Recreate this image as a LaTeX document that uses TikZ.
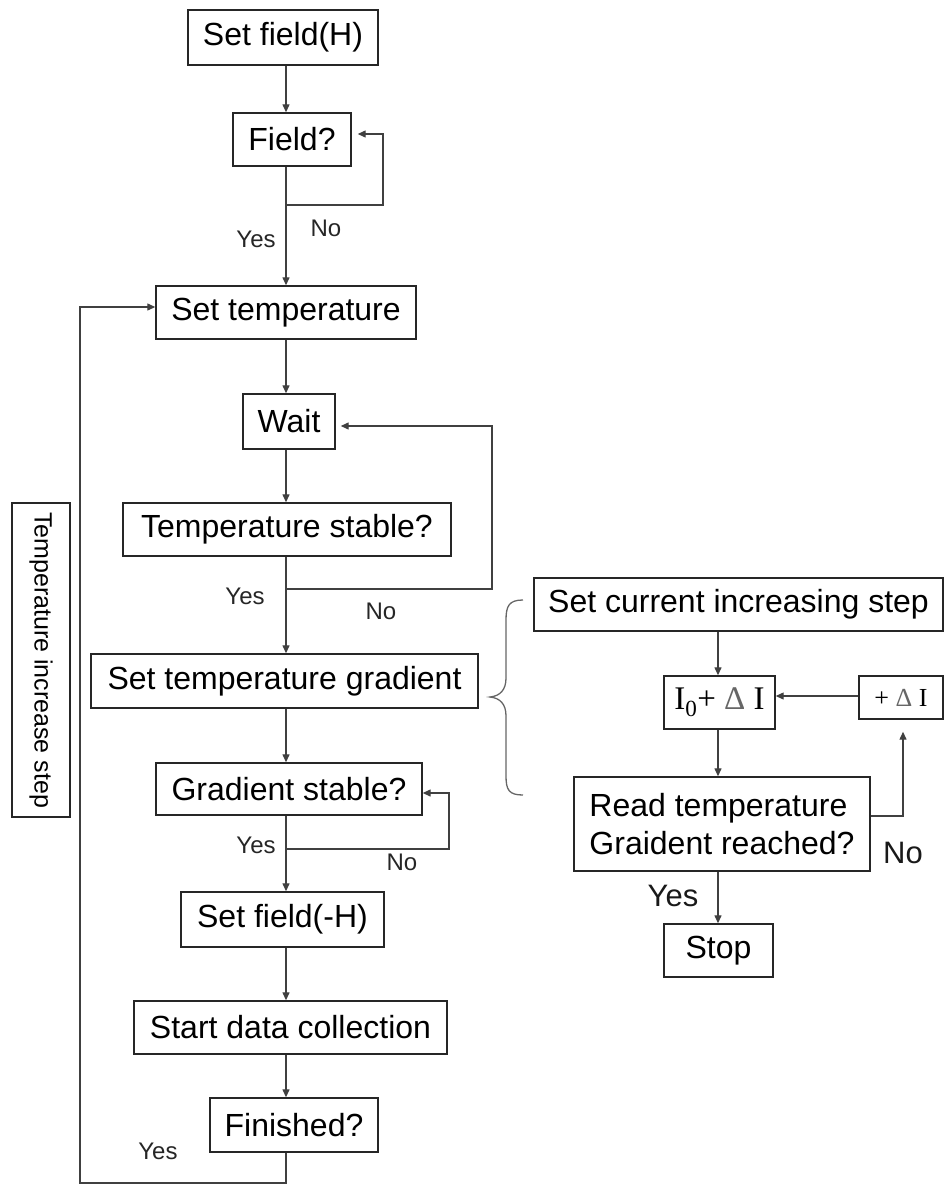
\documentclass[tikz,border=0pt]{standalone}
\usepackage{fontspec}
\setmainfont{Liberation Sans}
\newfontfamily\seriffam{Liberation Serif}
\usetikzlibrary{arrows.meta}
\begin{document}
\begin{tikzpicture}[x=1pt,y=-1pt,
  box/.style={draw=black!85, line width=1.4pt, inner sep=0pt, align=center, font=\fontsize{32}{38}\selectfont},
  ln/.style={draw=black!75, line width=1.3pt},
  arr/.style={ln, -{Triangle[length=8pt,width=7pt]}},
  lab/.style={inner sep=0pt, font=\fontsize{24}{28}\selectfont, text=black!85},
  labr/.style={inner sep=0pt, font=\fontsize{31}{36}\selectfont, text=black!90}]
\useasboundingbox (0,0) rectangle (944,1185);
% main column
\node[box, minimum width=190pt, minimum height=55pt] (n1) at (283,37.5) {Set field(H)};
\node[box, minimum width=118pt, minimum height=53pt] (n2) at (292,139.5) {Field?};
\node[box, minimum width=260pt, minimum height=53pt] (n3) at (286,312.5) {Set temperature};
\node[box, minimum width=92pt, minimum height=55pt] (n4) at (289,421.5) {Wait};
\node[box, minimum width=328pt, minimum height=53pt] (n5) at (287,529.5) {Temperature stable?};
\node[box, minimum width=387pt, minimum height=54pt] (n6) at (284.5,681) {Set temperature gradient};
\node[box, minimum width=266pt, minimum height=52pt] (n7) at (289,789) {Gradient stable?};
\node[box, minimum width=203pt, minimum height=55pt] (n8) at (282.5,919.5) {Set field(-H)};
\node[box, minimum width=313pt, minimum height=53pt] (n9) at (290.5,1027.5) {Start data collection};
\node[box, minimum width=168pt, minimum height=54pt] (n10) at (294,1125) {Finished?};
\node[box, rotate=-90, minimum width=314pt, minimum height=58pt, font=\fontsize{25}{30}\selectfont] (side) at (41,660) {Temperature increase step};
% right column
\node[box, minimum width=409pt, minimum height=53pt] (r1) at (738.5,604.5) {Set current increasing step};
\node[box, minimum width=111pt, minimum height=53pt, font=\seriffam\fontsize{33}{38}\selectfont] (r2) at (719.5,702.5) {I\textsubscript{0}+ {\color{black!60}Δ} I};
\node[box, minimum width=84pt, minimum height=43pt, font=\seriffam\fontsize{26}{30}\selectfont] (r3) at (901,697.5) {+ {\color{black!60}Δ} I};
\node[box, minimum width=296pt, minimum height=94pt, align=left] (r4) at (722,824) {Read temperature\\Graident reached?};
\node[box, minimum width=109pt, minimum height=53pt] (r5) at (718.5,950.5) {Stop};
% coordinates
\coordinate (sp) at (286,0);
\coordinate (rs) at (718,0);
\coordinate (b1) at (286,205);
\coordinate (c1) at (383,134);
\coordinate (b2) at (286,589);
\coordinate (c2) at (492,426);
\coordinate (b3) at (286,849);
\coordinate (c3) at (449,793);
\coordinate (c4) at (80,1183);
\coordinate (c5) at (80,307);
\coordinate (ry) at (0,696);
\coordinate (c6) at (903,816);
% main arrows
\draw[arr] (n1.south -| sp) -- (n2.north -| sp);
\draw[arr] (n2.south -| sp) -- (n3.north -| sp);
\draw[arr] (n3.south -| sp) -- (n4.north -| sp);
\draw[arr] (n4.south -| sp) -- (n5.north -| sp);
\draw[arr] (n5.south -| sp) -- (n6.north -| sp);
\draw[arr] (n6.south -| sp) -- (n7.north -| sp);
\draw[arr] (n7.south -| sp) -- (n8.north -| sp);
\draw[arr] (n8.south -| sp) -- (n9.north -| sp);
\draw[arr] (n9.south -| sp) -- (n10.north -| sp);
% loops
\draw[arr, shorten >=6pt] (b1) -| (c1) -- (c1 -| n2.east);
\draw[arr, shorten >=5pt] (b2) -| (c2) -- (c2 -| n4.east);
\draw[arr] (b3) -| (c3) -- (c3 -| n7.east);
\draw[arr] (n10.south -| sp) |- (c4) -- (c5) -- (c5 -| n3.west);
% right arrows
\draw[arr] (r1.south -| rs) -- (r2.north -| rs);
\draw[arr] (r2.south -| rs) -- (r4.north -| rs);
\draw[arr] (r4.south -| rs) -- (r5.north -| rs);
\draw[arr] (r3.west |- ry) -- (r2.east |- ry);
\draw[arr, shorten >=12pt] (r4.east |- c6) -- (c6) -- (c6 |- r3.south);
% brace
\draw[draw=black!60, line width=1.3pt] (523,600) .. controls (509,600) and (506,606) .. (506,620) -- (506,678) .. controls (506,690) and (500,696) .. (490,697) .. controls (500,698) and (506,704) .. (506,716) -- (506,776) .. controls (506,790) and (509,795) .. (523,795);
% labels
\node[lab] (l1) at (326,228) {No};
\node[lab] (l2) at (256,239) {Yes};
\node[lab] (l3) at (245,596) {Yes};
\node[lab] (l4) at (381,611) {No};
\node[lab] (l5) at (256,845) {Yes};
\node[lab] (l6) at (402,862) {No};
\node[lab] (l7) at (158,1151) {Yes};
\node[labr] (l8) at (903,853) {No};
\node[labr] (l9) at (673,896) {Yes};
\end{tikzpicture}
\end{document}
